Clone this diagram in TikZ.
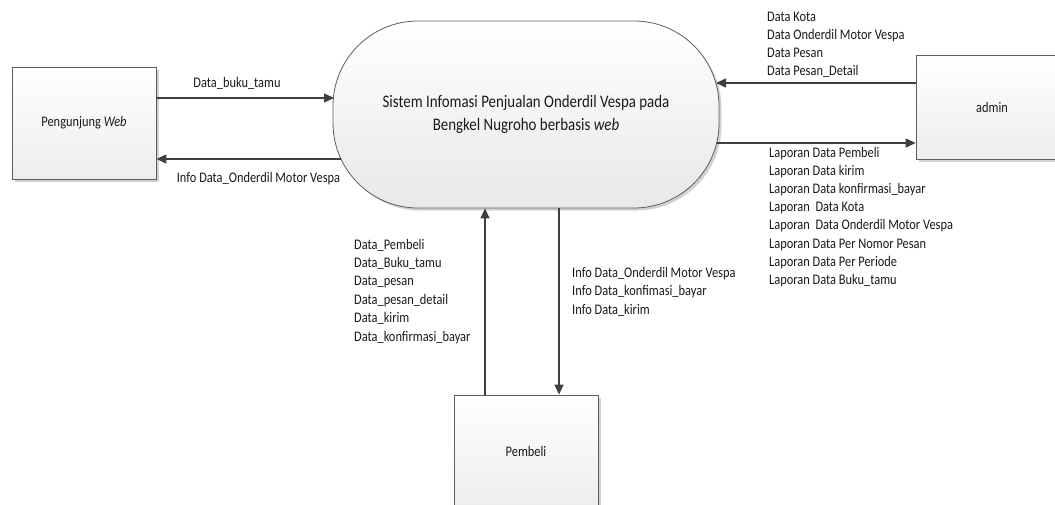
\documentclass[tikz,border=0pt]{standalone}
\usepackage{fontspec}
\setmainfont{Carlito}
\usepackage{graphicx}
\usetikzlibrary{arrows.meta,shadows}
\definecolor{ln}{HTML}{404040}
\definecolor{bd}{HTML}{5E5E5E}
\definecolor{tx}{HTML}{1A1A1A}
\newcommand\vst[1]{\scalebox{1}[1.18]{#1}}
\tikzset{
 ent/.style={draw=bd, line width=0.8pt, top color=white, bottom color=black!7,
   drop shadow={shadow xshift=2.5pt, shadow yshift=-2.5pt, fill=black!40, opacity=0.45},
   minimum width=144pt, minimum height=112pt, inner sep=0pt,
   font=\fontsize{12.4}{15}\selectfont, text=tx},
 proc/.style={draw=bd, line width=0.8pt, top color=white, bottom color=black!9,
   rounded corners=85pt,
   drop shadow={shadow xshift=2.5pt, shadow yshift=-2.5pt, fill=black!40, opacity=0.45},
   minimum width=386pt, minimum height=187pt, align=center, inner sep=0pt,
   font=\fontsize{14.9}{23}\selectfont, text=tx},
 arr/.style={draw=ln, line width=1.3pt, -{Triangle[length=10pt,width=9pt]}},
 lbl/.style={font=\fontsize{12.4}{15}\selectfont, inner sep=0pt, text=tx},
}
\begin{document}
\begin{tikzpicture}[x=1pt,y=-1pt]
\useasboundingbox (0,0) rectangle (1055,504);
\fill[white] (0,0) rectangle (1055,504);
\clip (0,0) rectangle (1055,504);

% nodes
\node[ent] (pw) at (84,123) {\vst{Pengunjung \textit{Web}}};
\node[ent, minimum width=152pt, minimum height=104pt] (adm) at (992,107) {\vst{admin}};
\node[ent] (pb) at (526,451) {\vst{Pembeli}};
\node[proc] (st) at (526,114.5) {\vst{Sistem Infomasi Penjualan Onderdil Vespa pada}\\\vst{Bengkel Nugroho berbasis \textit{web}}};

% border points on the process
\coordinate (s1) at (334,98);
\coordinate (s2) at (341,159);
\coordinate (s3) at (716,83);
\coordinate (s4) at (716.5,143);
\coordinate (xb1) at (485,0);
\coordinate (xb2) at (559,0);

% connectors
\draw[arr] (pw.east |- s1) -- (s1);
\draw[arr] (s2) -- (pw.east |- s2);
\draw[arr] (adm.west |- s3) -- (s3);
\draw[arr] (s4) -- (adm.west |- s4);
\draw[arr] (pb.north -| xb1) -- (st.south -| xb1);
\draw[arr] (st.south -| xb2) -- (pb.north -| xb2);

% labels
\node[lbl, anchor=base] (l1) at (237,87) {\vst{Data\_buku\_tamu}};
\node[lbl, anchor=base] (l2) at (258.5,182) {\vst{Info Data\_Onderdil Motor Vespa}};

\foreach \t [count=\i] in {Data Kota, Data Onderdil Motor Vespa, Data Pesan, Data Pesan\_Detail}
  \node[lbl, anchor=base west] (la\i) at (767,{21+18.3*(\i-1)}) {\vst{\t}};

\foreach \t [count=\i] in {Laporan Data Pembeli, Laporan Data kirim, Laporan Data konfirmasi\_bayar,
   Laporan~ Data Kota, Laporan~ Data Onderdil Motor Vespa, Laporan Data Per Nomor Pesan,
   Laporan Data Per Periode, Laporan Data Buku\_tamu}
  \node[lbl, anchor=base west] (lb\i) at (769,{157+18.2*(\i-1)}) {\vst{\t}};

\foreach \t [count=\i] in {Data\_Pembeli, Data\_Buku\_tamu, Data\_pesan, Data\_pesan\_detail,
   Data\_kirim, Data\_konfirmasi\_bayar}
  \node[lbl, anchor=base west] (lc\i) at (354,{249+18.4*(\i-1)}) {\vst{\t}};

\foreach \t [count=\i] in {Info Data\_Onderdil Motor Vespa, Info Data\_konfimasi\_bayar, Info Data\_kirim}
  \node[lbl, anchor=base west] (ld\i) at (572,{277.5+18.4*(\i-1)}) {\vst{\t}};
\end{tikzpicture}
\end{document}
